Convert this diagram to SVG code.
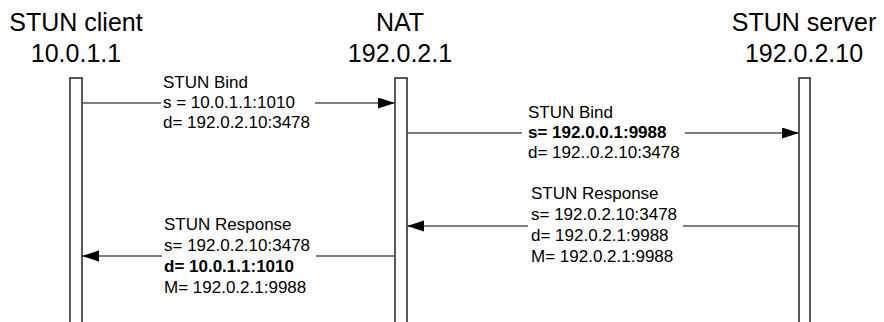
<svg xmlns="http://www.w3.org/2000/svg" width="884" height="322" viewBox="0 0 884 322">
<style>
.title{font-family:"Liberation Sans",Arial,sans-serif;font-size:25px;fill:#000;text-anchor:middle}
.lbl{font-family:"Liberation Sans",Arial,sans-serif;font-size:17px;fill:#000}
.b{font-weight:bold}
.life{fill:#fff;stroke:#222;stroke-width:1.5}
.msg{fill:none;stroke:#555;stroke-width:1.3}
</style>
<defs>
<marker id="ah" markerUnits="userSpaceOnUse" markerWidth="18" markerHeight="12" refX="17" refY="5.5" orient="auto">
<path d="M0,0 L17,5.5 L0,11 z" fill="#000"/>
</marker>
</defs>
<rect width="884" height="322" fill="#fff"/>
<g id="client">
<text class="title" x="76" y="31">STUN client</text>
<text class="title" x="76" y="62">10.0.1.1</text>
<rect class="life" x="70" y="78" width="12" height="260"/>
</g>
<g id="nat">
<text class="title" x="400" y="31">NAT</text>
<text class="title" x="400" y="62">192.0.2.1</text>
<rect class="life" x="395" y="78" width="12" height="260"/>
</g>
<g id="server">
<text class="title" x="804" y="31">STUN server</text>
<text class="title" x="804" y="62">192.0.2.10</text>
<rect class="life" x="799" y="78" width="11" height="260"/>
</g>
<g id="connectors">
<path class="msg" d="M82,103 H161"/>
<path class="msg" d="M315,103 H395" marker-end="url(#ah)"/>
<path class="msg" d="M407,133 H522"/>
<path class="msg" d="M685,133 H799" marker-end="url(#ah)"/>
<path class="msg" d="M799,226 H683"/>
<path class="msg" d="M528,226 H407" marker-end="url(#ah)"/>
<path class="msg" d="M395,256 H316"/>
<path class="msg" d="M162,256 H82" marker-end="url(#ah)"/>
</g>
<g id="label-bind1">
<text class="lbl" x="163" y="88">STUN Bind</text>
<text class="lbl" x="163" y="108">s = 10.0.1.1:1010</text>
<text class="lbl" x="163" y="128">d= 192.0.2.10:3478</text>
</g>
<g id="label-bind2">
<text class="lbl" x="528" y="118">STUN Bind</text>
<text class="lbl b" x="528" y="138">s= 192.0.0.1:9988</text>
<text class="lbl" x="528" y="158">d= 192..0.2.10:3478</text>
</g>
<g id="label-resp1">
<text class="lbl" x="531" y="198.5">STUN Response</text>
<text class="lbl" x="531" y="220">s= 192.0.2.10:3478</text>
<text class="lbl" x="531" y="241">d= 192.0.2.1:9988</text>
<text class="lbl" x="531" y="262">M= 192.0.2.1:9988</text>
</g>
<g id="label-resp2">
<text class="lbl" x="164" y="229.5">STUN Response</text>
<text class="lbl" x="164" y="251">s= 192.0.2.10:3478</text>
<text class="lbl b" x="164" y="272">d= 10.0.1.1:1010</text>
<text class="lbl" x="164" y="292.5">M= 192.0.2.1:9988</text>
</g>
</svg>
